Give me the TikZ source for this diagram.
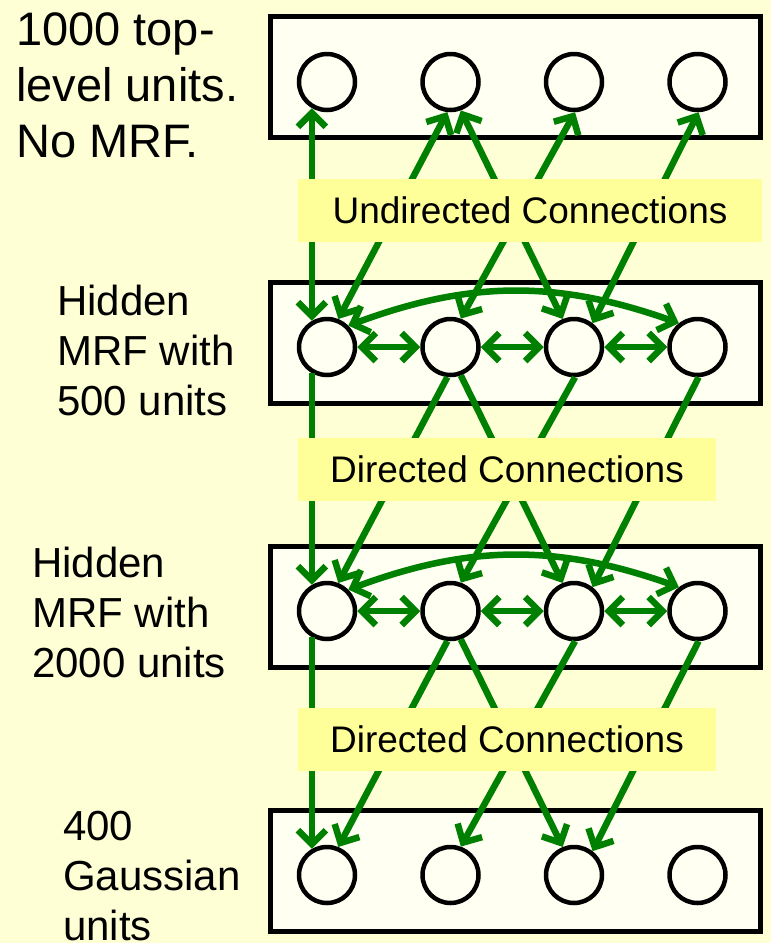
\documentclass[tikz,border=0pt]{standalone}
\usepackage{fontspec}
\setmainfont{Liberation Sans}
\usetikzlibrary{arrows.meta, positioning}
\definecolor{cbg}{HTML}{FFFFD6}
\definecolor{cpanel}{HTML}{FFFFF2}
\definecolor{ctag}{HTML}{FFFF99}
\definecolor{cgreen}{HTML}{008000}
\tikzset{
  layer/.style={draw=black, fill=cpanel, line width=5pt, minimum width=490pt, minimum height=121pt, inner sep=0pt},
  unit/.style={circle, draw=black, fill=cpanel, line width=4.5pt, minimum size=56pt, inner sep=0pt},
  link/.style={->, >={Straight Barb[length=14pt, width=28pt]}, draw=cgreen, line width=6.5pt},
  both/.style={link, <->},
  tag/.style={fill=ctag, inner sep=0pt, minimum height=63pt, font=\fontsize{37}{44}\selectfont},
  side/.style={align=left, inner sep=0pt, anchor=north west},
}

\begin{document}
\begin{tikzpicture}[x=1pt, y=1pt]
  \fill[cbg] (0,0) rectangle (771,-943);
  \useasboundingbox (0,0) rectangle (771,-943);

  % layers
  \node[layer] (toplayer) at (515.5,-77) {};
  \node[layer] (midlayer) at (515.5,-342.5) {};
  \node[layer] (lowlayer) at (515.5,-606.5) {};
  \node[layer] (vislayer) at (515.5,-870.5) {};

  \node[side, font=\fontsize{47}{56}\selectfont] (toptext) at (16,-12) {1000 top-\\level units.\\No MRF.};
  \node[side, font=\fontsize{42}{50}\selectfont] (midtext) at (57,-285) {Hidden\\MRF with\\500 units};
  \node[side, font=\fontsize{42}{50}\selectfont] (lowtext) at (32,-547) {Hidden\\MRF with\\2000 units};
  \node[side, font=\fontsize{42}{50}\selectfont] (vistext) at (63,-811) {400\\Gaussian\\units};

  % units
  \node[unit] (top1) at (327,-82) {};
  \node[unit, right=63pt of top1] (top2) {};
  \node[unit, right=63pt of top2] (top3) {};
  \node[unit, right=63pt of top3] (top4) {};
  \node[unit] (mid1) at (327,-347) {};
  \node[unit, right=63pt of mid1] (mid2) {};
  \node[unit, right=63pt of mid2] (mid3) {};
  \node[unit, right=63pt of mid3] (mid4) {};
  \node[unit] (low1) at (327,-611) {};
  \node[unit, right=63pt of low1] (low2) {};
  \node[unit, right=63pt of low2] (low3) {};
  \node[unit, right=63pt of low3] (low4) {};
  \node[unit] (vis1) at (327,-875) {};
  \node[unit, right=63pt of vis1] (vis2) {};
  \node[unit, right=63pt of vis2] (vis3) {};
  \node[unit, right=63pt of vis3] (vis4) {};

  % undirected, top to 500
  \draw[both] (top1.240) -- (mid1.120);
  \draw[both] (top2.264) -- (mid1.68);
  \draw[both] (top2.290) -- (mid3.112);
  \draw[both] (top3.272) -- (mid2.70);
  \draw[both] (top4.272) -- (mid3.52);

  % directed, 500 to 2000
  \draw[link] (mid1.240) -- (low1.120);
  \draw[link] (mid2.264) -- (low1.68);
  \draw[link] (mid2.290) -- (low3.112);
  \draw[link] (mid3.272) -- (low2.70);
  \draw[link] (mid4.272) -- (low3.52);

  % directed, 2000 to Gaussian
  \draw[link] (low1.240) -- (vis1.120);
  \draw[link] (low2.264) -- (vis1.68);
  \draw[link] (low2.290) -- (vis3.112);
  \draw[link] (low3.272) -- (vis2.70);
  \draw[link] (low4.272) -- (vis3.52);

  % MRF links inside the hidden layers
  \draw[both] (mid1.east) -- (mid2.west);
  \draw[both] (mid2.east) -- (mid3.west);
  \draw[both] (mid3.east) -- (mid4.west);
  \draw[both] (mid1.45) to[bend left=20] (mid4.128);
  \draw[both] (low1.east) -- (low2.west);
  \draw[both] (low2.east) -- (low3.west);
  \draw[both] (low3.east) -- (low4.west);
  \draw[both] (low1.45) to[bend left=20] (low4.128);

  \node[tag, minimum width=464pt] (undir) at (530,-210.5) {Undirected Connections};
  \node[tag, minimum width=418pt] (dir1) at (507,-469.5) {Directed Connections};
  \node[tag, minimum width=418pt] (dir2) at (507,-739) {Directed Connections};
\end{tikzpicture}
\end{document}
